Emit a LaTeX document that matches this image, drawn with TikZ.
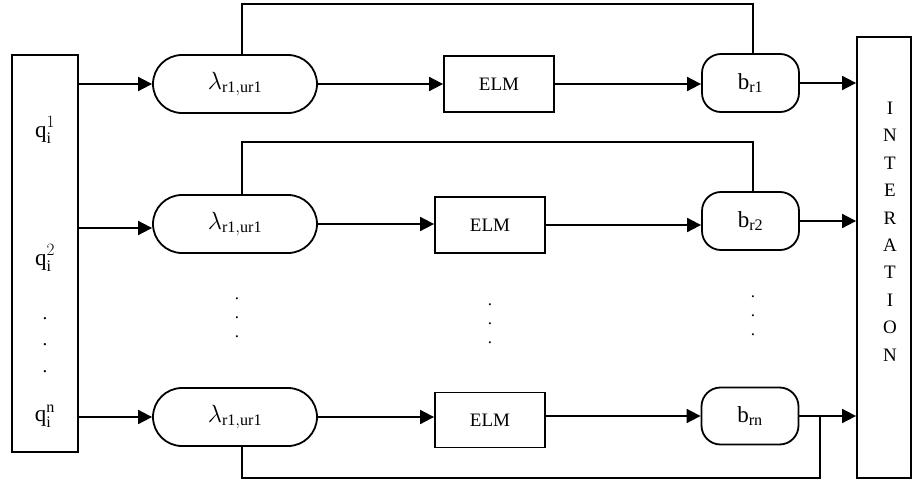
\documentclass[tikz,border=0pt]{standalone}
\usepackage{fontspec}
\setmainfont{Liberation Serif}
\usetikzlibrary{shapes.misc,arrows.meta}
\begin{document}
\begin{tikzpicture}[x=1pt,y=-1pt,line width=1.8pt,
  lbl/.style={font=\fontsize{19}{21}\selectfont},
  mlbl/.style={font=\fontsize{23}{25}\selectfont},
  lam/.style={draw,rounded rectangle,minimum width=164pt,minimum height=58pt,inner sep=0pt,mlbl},
  elmbox/.style={draw,rectangle,minimum width=110pt,minimum height=56pt,inner sep=0pt,lbl},
  bbox/.style={draw,rectangle,rounded corners=19pt,minimum width=97pt,minimum height=58pt,inner sep=0pt,mlbl},
  arr/.style={-{Triangle[length=14pt,width=14pt]}},
  dotcol/.style={align=center,inner sep=0pt,font=\fontsize{17}{19}\selectfont}
]
\useasboundingbox (0,0) rectangle (914,482);

% outer boxes
\node[draw,minimum width=66pt,minimum height=397pt,inner sep=0pt] (in) at (45,253.5) {};
\node[draw,minimum width=54pt,minimum height=441pt,inner sep=0pt] (out) at (884,257.5) {};

% input labels
\node[mlbl] (q1) at (45,130) {$\mathrm{q}_{\mathrm{i}}^{1}$};
\node[mlbl] (q2) at (45,258) {$\mathrm{q}_{\mathrm{i}}^{2}$};
\node[dotcol,font=\fontsize{19}{26.5}\selectfont] (qd) at (45,345) {.\\.\\.};
\node[mlbl] (qn) at (45,416) {$\mathrm{q}_{\mathrm{i}}^{\mathrm{n}}$};

% output label
\node[align=center,inner sep=0pt,font=\fontsize{19}{27.4}\selectfont] (otxt) at (890,231.5)
  {I\\N\\T\\E\\R\\A\\T\\I\\O\\N};

% row 1
\node[lam] (lam1) at (235,84) {$\lambda_{\mathrm{r1,ur1}}$};
\node[elmbox] (elm1) at (499,84) {ELM};
\node[bbox] (b1) at (750.5,83) {$\mathrm{b}_{\mathrm{r1}}$};
% row 2
\node[lam] (lam2) at (235,224) {$\lambda_{\mathrm{r1,ur1}}$};
\node[elmbox] (elm2) at (490,225) {ELM};
\node[bbox] (b2) at (750.5,221) {$\mathrm{b}_{\mathrm{r2}}$};
% row n
\node[lam] (lam3) at (235,417) {$\lambda_{\mathrm{r1,ur1}}$};
\node[elmbox,minimum height=55pt] (elm3) at (490,420) {ELM};
\node[bbox,minimum height=57pt] (b3) at (750,416) {$\mathrm{b}_{\mathrm{rn}}$};

% vertical dots
\node[dotcol] (d1) at (237,318) {.\\.\\.};
\node[dotcol] (d2) at (490,324) {.\\.\\.};
\node[dotcol] (d3) at (753,316) {.\\.\\.};

% helper coordinates
\coordinate (fbL) at (242,0);
\coordinate (t1) at (753,4);
\coordinate (t2) at (753,142);
\coordinate (r2) at (0,228);
\coordinate (j3) at (820,0);
\coordinate (bot) at (820,478);

% row 1 connectors
\draw[arr] (in.east |- lam1) -- (lam1);
\draw[arr] (lam1) -- (elm1);
\draw[arr] (elm1.east) -- (elm1.east -| b1.west);
\draw[arr] (b1) -- (out.west |- b1);
\draw (lam1.north -| fbL) |- (t1) -- (b1.north -| t1);

% row 2 connectors
\draw[arr] (in.east |- r2) -- (lam2.west |- r2);
\draw[arr] (lam2) -- (elm2.west |- lam2);
\draw[arr] (elm2.east) -- (elm2.east -| b2.west);
\draw[arr] (b2) -- (out.west |- b2);
\draw (lam2.north -| fbL) |- (t2) -- (b2.north -| t2);

% row n connectors
\draw[arr] (in.east |- lam3) -- (lam3);
\draw[arr] (lam3) -- (elm3.west |- lam3);
\draw[arr] (elm3.east |- b3) -- (b3);
\draw[arr] (b3) -- (out.west |- b3);
\draw (j3 |- b3) -- (bot) -| (lam3.south -| fbL);
\end{tikzpicture}
\end{document}
